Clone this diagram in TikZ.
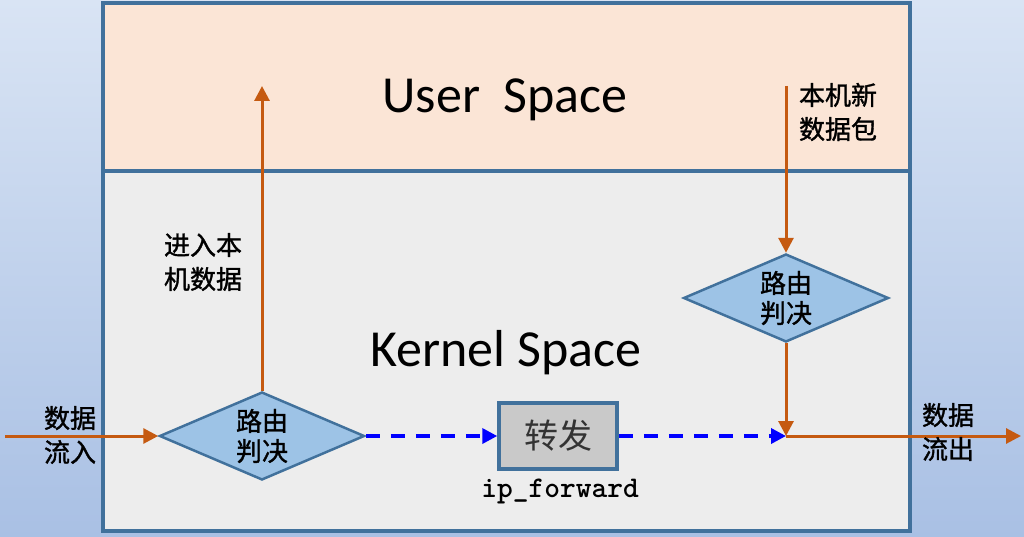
\documentclass[tikz,border=0pt]{standalone}
\usepackage{fontspec}
\setmainfont{Liberation Serif}
\newfontfamily\cjk{Noto Sans CJK SC}[FakeBold=1.3]
\newfontfamily\cjkl{Noto Sans CJK SC}
\newfontfamily\latin{Carlito}
\usetikzlibrary{shapes.geometric,arrows.meta}
\definecolor{orng}{HTML}{C55A11}
\definecolor{bord}{HTML}{41719C}
\definecolor{diafill}{HTML}{9DC3E6}
\definecolor{userfill}{HTML}{FBE5D6}
\definecolor{kernfill}{HTML}{EDEDED}
\definecolor{boxfill}{HTML}{C9C9C9}
\definecolor{bgtop}{HTML}{D9E4F4}
\definecolor{bgbot}{HTML}{A9C0E4}
\tikzset{
  dia/.style={diamond, draw=bord, fill=diafill, line width=2.5pt, minimum width=205pt, minimum height=88pt, inner sep=0pt, shape aspect=2.33, align=center, font=\cjk\fontsize{26}{30}\selectfont},
  fwbox/.style={rectangle, draw=bord, fill=boxfill, line width=3.5pt, minimum width=118pt, minimum height=66pt, inner sep=0pt, font=\cjkl\fontsize{34}{40}\selectfont, text=black!80},
  lbl/.style={align=left, inner sep=0pt, font=\cjk\fontsize{26}{34}\selectfont},
  oarr/.style={draw=orng, line width=3pt, -{Triangle[length=15pt,width=15pt]}},
  barr/.style={draw=blue, line width=3.5pt, dash pattern=on 14pt off 11pt, -{Triangle[length=15pt,width=15pt]}},
}
\begin{document}
\begin{tikzpicture}[x=1pt,y=-1pt]
\useasboundingbox (0,0) rectangle (1024,537);
\shade[top color=bgtop, bottom color=bgbot] (0,0) rectangle (1024,537);
\fill[userfill] (103,3) rectangle (910,171);
\fill[kernfill] (103,171) rectangle (910,531);
\draw[bord, line width=3.5pt] (103,171) -- (910,171);
\draw[bord, line width=3.5pt] (103,3) rectangle (910,531);
\node (us) at (505,100) {\latin\fontsize{52}{60}\selectfont User\ \ Space};
\node (ks) at (506,353) {\latin\fontsize{52}{60}\selectfont Kernel Space};
\node[dia] (d1) at (262,436) {路由\\判决};
\node[dia] (d2) at (786,298) {路由\\判决};
\node[fwbox] (fw) at (558,436) {转发};
\node (ipf) at (560,491) {\ttfamily\bfseries\fontsize{30}{34}\selectfont ip\_forward};
\coordinate (in) at (5,436);
\coordinate (up) at (262,86);
\coordinate (top) at (786,86);
\coordinate (j) at (786,436);
\coordinate (out) at (1021,436);
\draw[oarr] (in) -- (d1.west);
\draw[oarr] (d1.north) -- (up);
\draw[oarr] (top) -- (d2.north);
\draw[oarr] (d2.south) -- (j);
\draw[oarr] (j) -- (out);
\draw[barr] (d1.east) -- (fw.west);
\draw[barr] (fw.east) -- (j);
\node[lbl] (l1) at (70,435) {数据\\流入};
\node[lbl] (l2) at (203,262) {进入本\\机数据};
\node[lbl] (l3) at (838,112) {本机新\\数据包};
\node[lbl] (l4) at (948,432) {数据\\流出};
\end{tikzpicture}
\end{document}
